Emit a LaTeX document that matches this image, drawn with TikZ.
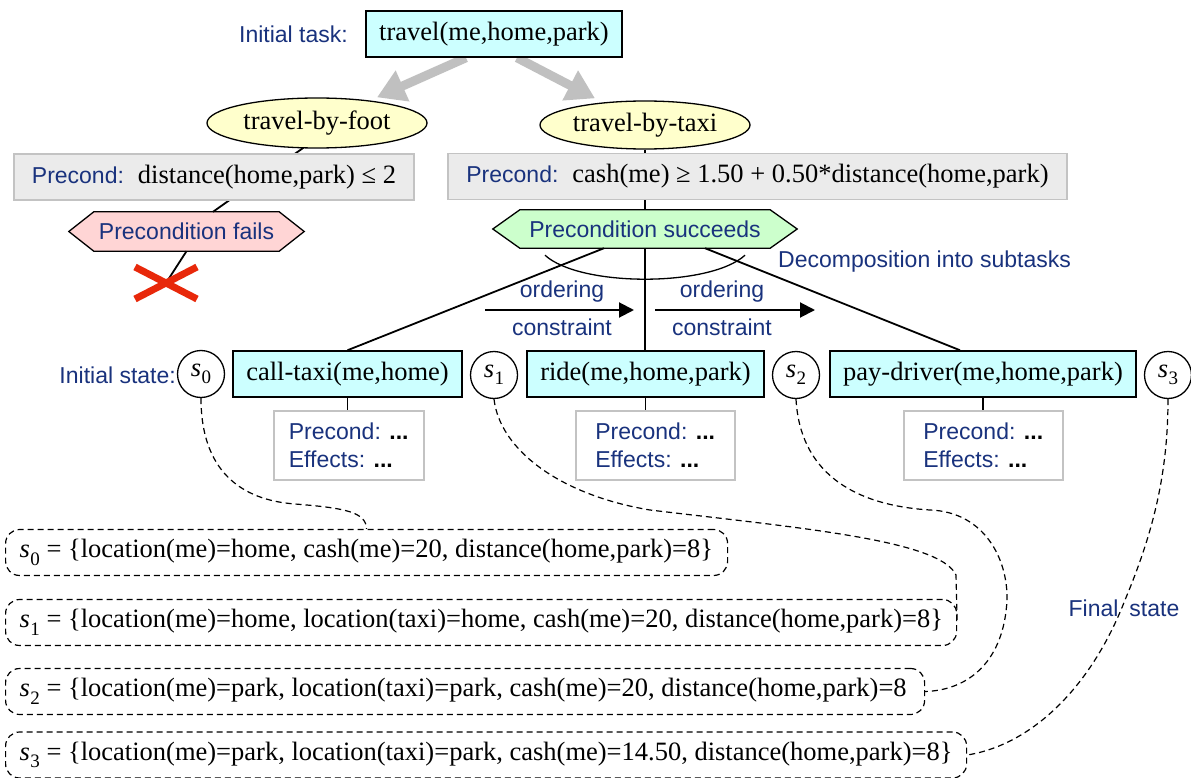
\documentclass[tikz,border=0pt]{standalone}
\usepackage{fontspec}
\setmainfont{Liberation Serif}
\setsansfont{Liberation Sans}
\usetikzlibrary{shapes.geometric,arrows.meta,calc,backgrounds}
\definecolor{navy}{RGB}{25,50,125}
\definecolor{cyanf}{RGB}{204,255,255}
\definecolor{yell}{RGB}{255,255,204}
\definecolor{pinkf}{RGB}{255,213,213}
\definecolor{greenf}{RGB}{204,255,204}
\definecolor{xred}{RGB}{232,40,10}
\definecolor{pgray}{RGB}{235,235,235}
\definecolor{bgray}{RGB}{195,195,195}
\definecolor{arrgray}{RGB}{192,192,192}
\newcommand\sfs{\fontsize{23}{28}\selectfont\sffamily}
\newcommand\sv[1]{\textit{s}\kern0.5pt\raisebox{-0.28em}{\fontsize{19}{19}\selectfont #1}}
\newcommand\dts{\textbf{\color{black}...}}
\begin{document}
\begin{tikzpicture}[x=1pt,y=-1pt,font=\fontsize{26.5}{30}\selectfont,
  task/.style={draw=black,line width=1.5,fill=cyanf,minimum height=46,inner sep=0},
  meth/.style={ellipse,draw=black,line width=1.3,fill=yell,inner sep=0},
  pbox/.style={draw=bgray,line width=1.5,fill=pgray,minimum height=46,inner sep=0},
  hexl/.style={inner sep=0,font=\sfs,text=navy},
  hexshape/.style={draw=black,line width=1.3},
  lbl/.style={font=\sfs,text=navy,inner sep=0},
  sbox/.style={draw=bgray,line width=1.5,fill=white,align=left,anchor=north west,inner xsep=14,inner ysep=0,minimum height=69,font=\sfs,text=navy},
  stc/.style={circle,draw=black,line width=1.3,minimum size=47,inner sep=0},
  stbox/.style={draw=black,line width=1.2,dash pattern=on 6pt off 4pt,rounded corners=14,minimum height=46,inner xsep=14,inner ysep=0,anchor=west},
  conn/.style={draw=black,line width=1.8},
  dconn/.style={draw=black,line width=1.2,dash pattern=on 6pt off 4pt},
  garrow/.style={draw=arrgray,line width=9,-{Triangle[length=28,width=32]}},
  oarrow/.style={draw=black,line width=2,-{Triangle[length=15,width=15]}}]
\useasboundingbox (0,0) rectangle (1191,778);

% top
\node[task,minimum width=256] (task) at (494,34) {travel(me,home,park)};
\node[lbl,anchor=east] (itask) at (348,34) {Initial task:};
\node[meth,minimum width=220,minimum height=50] (foot) at (317,123) {travel-by-foot};
\node[meth,minimum width=210,minimum height=48] (taxi) at (645,125) {travel-by-taxi};

\node[pbox,minimum width=400] (pre1) at (214,177) {{\color{navy}\sfs Precond:}\hspace{14pt}distance(home,park) ≤ 2};
\node[pbox,minimum width=619] (pre2) at (757.5,176.5) {{\color{navy}\sfs Precond:}\hspace{14pt}cash(me) ≥ 1.50 + 0.50*distance(home,park)};

\node[hexl,minimum width=185,minimum height=39] (fails) at (186.5,231.5) {Precondition fails};
\node[hexl,minimum width=250,minimum height=38] (succ) at (645,229) {Precondition succeeds};
\coordinate (xm) at (166,283);

% subtasks
\node[task,minimum width=229] (t1) at (347.5,374) {call-taxi(me,home)};
\node[task,minimum width=237] (t2) at (645.5,374) {ride(me,home,park)};
\node[task,minimum width=306] (t3) at (983,374) {pay-driver(me,home,park)};

\node[stc] (s0) at (201,374) {\sv{0}};
\node[stc] (s1) at (494,375) {\sv{1}};
\node[stc] (s2) at (796,375) {\sv{2}};
\node[stc] (s3) at (1168,375) {\sv{3}};
\node[lbl,anchor=east] (istate) at (176,375) {Initial state:};

\node[sbox,minimum width=150] (b1) at (273,410) {Precond: \dts\\Effects: \dts};
\node[sbox,minimum width=159] (b2) at (575,410) {Precond: \dts\\Effects: \dts};
\node[sbox,minimum width=159] (b3) at (903,410) {Precond: \dts\\Effects: \dts};

% ordering
\coordinate (o1a) at (485,310); \coordinate (o1b) at (634,310);
\coordinate (o2a) at (655,310); \coordinate (o2b) at (815,310);
\node[lbl] (ord1) at (562,292) {ordering};
\node[lbl] (con1) at (562,327) {constraint};
\node[lbl] (ord2) at (722,292) {ordering};
\node[lbl] (con2) at (722,327) {constraint};
\draw[oarrow] (o1a) -- (o1b);
\draw[oarrow] (o2a) -- (o2b);
\node[lbl,anchor=west] (decomp) at (778,262) {Decomposition into subtasks};

% states
\node[stbox,minimum width=722] (sb0) at (5,552.5) {\makebox[694pt][l]{\sv{0} = \{location(me)=home, cash(me)=20, distance(home,park)=8\}}};
\node[stbox,minimum width=951] (sb1) at (5,622.5) {\makebox[923pt][l]{\sv{1} = \{location(me)=home, location(taxi)=home, cash(me)=20, distance(home,park)=8\}}};
\node[stbox,minimum width=919] (sb2) at (5,691.5) {\makebox[891pt][l]{\sv{2} = \{location(me)=park, location(taxi)=park, cash(me)=20, distance(home,park)=8}};
\node[stbox,minimum width=961] (sb3) at (5,755) {\makebox[933pt][l]{\sv{3} = \{location(me)=park, location(taxi)=park, cash(me)=14.50, distance(home,park)=8\}}};
\node[lbl] (fstate) at (1124,608) {Final\hspace{11pt}state};

% red cross
\draw[xred,line width=7] ($(xm)+(-31,-16)$) -- ($(xm)+(31,16)$);
\draw[xred,line width=7] ($(xm)+(-31,16)$) -- ($(xm)+(31,-16)$);

% decomposition arc
\draw[line width=1.3] ($(succ.south)+(-100,7)$) .. controls ($(succ.south)+(-65,39)$) and ($(succ.south)+(65,39)$) .. ($(succ.south)+(100,7)$);

\begin{scope}[on background layer]
  \fill[pinkf] (fails.north west) -- (fails.north east) -- ($(fails.east)+(25,0)$) -- (fails.south east) -- (fails.south west) -- ($(fails.west)+(-25,0)$) -- cycle;
  \draw[hexshape] (fails.north west) -- (fails.north east) -- ($(fails.east)+(25,0)$) -- (fails.south east) -- (fails.south west) -- ($(fails.west)+(-25,0)$) -- cycle;
  \fill[greenf] (succ.north west) -- (succ.north east) -- ($(succ.east)+(27,0)$) -- (succ.south east) -- (succ.south west) -- ($(succ.west)+(-27,0)$) -- cycle;
  \draw[hexshape] (succ.north west) -- (succ.north east) -- ($(succ.east)+(27,0)$) -- (succ.south east) -- (succ.south west) -- ($(succ.west)+(-27,0)$) -- cycle;
  \draw[garrow] ($(task.south)+(-28,0)$) -- ($(foot.north)+(60,0)$);
  \draw[garrow] ($(task.south)+(23,0)$) -- ($(taxi.north)+(-50,-2)$);
  \draw[conn] ($(foot.south)+(-12,-2)$) -- ($(fails.north)+(26.5,0)$);
  \draw[conn] (fails.south) -- (xm);
  \draw[conn] (taxi.south) -- (succ.north);
  \draw[conn] ($(succ.south)+(-41,0)$) -- (t1.north);
  \draw[conn] (succ.south) -- (succ.south |- t2.north);
  \draw[conn] ($(succ.south)+(60,0)$) -- ($(t3.north)+(-23,0)$);
  \draw[conn] (t1.south) -- (t1.south |- b1.north);
  \draw[conn] (t2.south) -- (t2.south |- b2.north);
  \draw[conn] (t3.south) -- (t3.south |- b3.north);
\end{scope}

% dashed state connectors
\draw[dconn] (s0.south) .. controls (201,470) and (240,500) .. (295,504) .. controls (345,508) and (366,512) .. (sb0.north);
\draw[dconn] (s1.south) .. controls (500,450) and (560,495) .. (650,510) .. controls (800,528) and (940,540) .. (956,575) -- (sb1.east);
\draw[dconn] (s2.south) .. controls (800,470) and (850,505) .. (930,510) .. controls (985,512) and (1008,560) .. (1007,600) .. controls (1004,660) and (970,690) .. (sb2.east);
\draw[dconn] (s3.south) .. controls (1168,480) and (1150,540) .. (1125,600) .. controls (1090,690) and (1030,745) .. (sb3.east);
\end{tikzpicture}
\end{document}
